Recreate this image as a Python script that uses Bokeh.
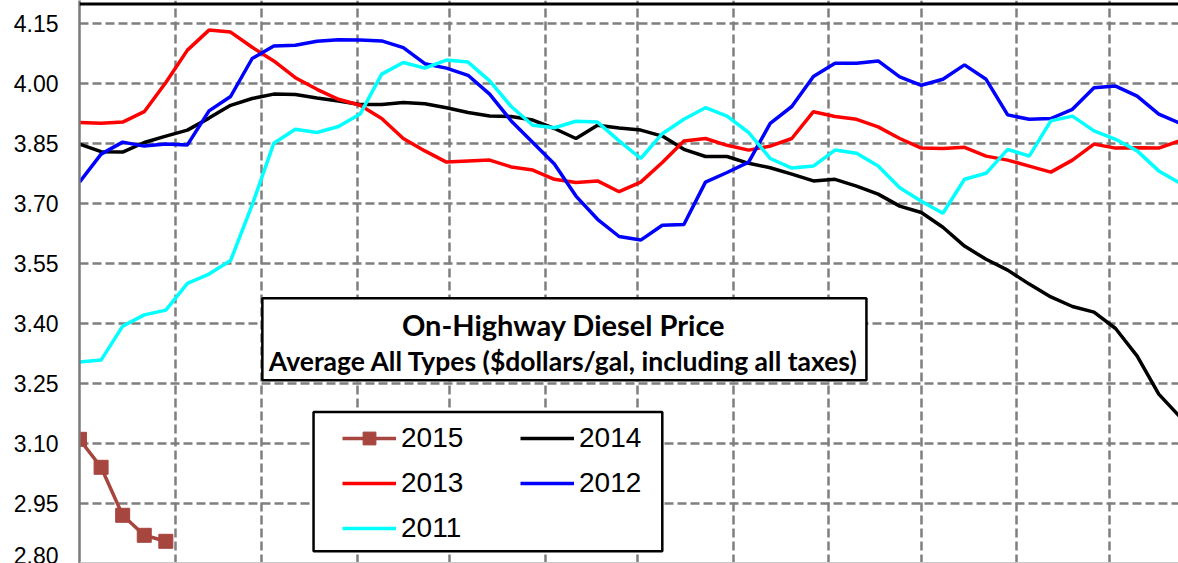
from bokeh.plotting import figure
from bokeh.models import (Range1d, FixedTicker, Span, BoxAnnotation, Label,
                          Legend, LegendItem, NumeralTickFormatter)
from bokeh.embed import file_html
from bokeh.resources import INLINE

# ---- data (weekly prices, $/gal) ----
weeks = list(range(52))
y2015 = [3.11, 3.04, 2.92, 2.87, 2.855]
y2014 = [3.848, 3.829, 3.828, 3.852, 3.868, 3.883, 3.913, 3.945, 3.962, 3.973,
         3.972, 3.963, 3.956, 3.947, 3.947, 3.952, 3.949, 3.939, 3.927, 3.918,
         3.917, 3.908, 3.887, 3.862, 3.895, 3.888, 3.883, 3.868, 3.835, 3.817,
         3.817, 3.800, 3.789, 3.773, 3.756, 3.760, 3.743, 3.723, 3.693, 3.677,
         3.640, 3.593, 3.560, 3.533, 3.498, 3.466, 3.442, 3.428, 3.387, 3.318,
         3.223, 3.165]
y2013 = [3.902, 3.900, 3.903, 3.929, 4.002, 4.083, 4.133, 4.128, 4.090, 4.056,
         4.014, 3.985, 3.960, 3.945, 3.912, 3.862, 3.831, 3.803, 3.806, 3.808,
         3.791, 3.783, 3.760, 3.752, 3.756, 3.729, 3.753, 3.802, 3.856, 3.862,
         3.845, 3.833, 3.843, 3.862, 3.929, 3.917, 3.910, 3.891, 3.862, 3.838,
         3.837, 3.840, 3.818, 3.808, 3.793, 3.778, 3.808, 3.848, 3.838, 3.839,
         3.838, 3.857]
y2012 = [3.753, 3.823, 3.853, 3.843, 3.848, 3.846, 3.931, 3.967, 4.062, 4.093,
         4.095, 4.105, 4.109, 4.108, 4.106, 4.089, 4.049, 4.038, 4.020, 3.973,
         3.906, 3.852, 3.798, 3.718, 3.660, 3.617, 3.608, 3.645, 3.647, 3.753,
         3.777, 3.803, 3.900, 3.942, 4.017, 4.050, 4.050, 4.056, 4.016, 3.995,
         4.010, 4.046, 4.010, 3.921, 3.910, 3.912, 3.935, 3.989, 3.993, 3.968,
         3.923, 3.900]
y2011 = [3.303, 3.308, 3.393, 3.421, 3.433, 3.500, 3.523, 3.557, 3.696, 3.850,
         3.885, 3.877, 3.892, 3.923, 4.023, 4.052, 4.038, 4.058, 4.053, 4.006,
         3.942, 3.895, 3.889, 3.905, 3.903, 3.856, 3.812, 3.874, 3.910, 3.939,
         3.918, 3.877, 3.812, 3.788, 3.793, 3.833, 3.825, 3.793, 3.739, 3.705,
         3.675, 3.760, 3.775, 3.835, 3.818, 3.906, 3.918, 3.881, 3.860, 3.831,
         3.781, 3.750]
y_ticks = [2.80, 2.95, 3.10, 3.25, 3.40, 3.55, 3.70, 3.85, 4.00, 4.15]
month_start_days = [31, 59, 90, 120, 151, 181, 212, 243, 273, 304, 334]

days = [w * 7 for w in weeks]

p = figure(width=1178, height=563, output_backend="svg", toolbar_location=None,
           x_range=Range1d(0, 356.4), y_range=Range1d(2.7995, 4.207),
           x_axis_location=None,
           min_border_left=79, min_border_right=0, min_border_top=0, min_border_bottom=0)
p.outline_line_color = None
p.background_fill_color = "white"
p.border_fill_color = "white"

ax = p.yaxis[0]
ax.ticker = FixedTicker(ticks=y_ticks)
ax.formatter = NumeralTickFormatter(format="0.00")
ax.major_tick_in = 0
ax.major_tick_out = 0
ax.minor_tick_in = 0
ax.minor_tick_out = 0
ax.axis_line_color = "#7a7a7a"
ax.axis_line_width = 2.5
ax.major_label_standoff = 21
ax.major_label_text_font = "Liberation Sans"
ax.major_label_text_font_size = "23px"
ax.major_label_text_color = "black"

for g in (p.xgrid, p.ygrid):
    g.grid_line_color = "#7f7f7f"
    g.grid_line_alpha = 1.0
    g.grid_line_width = 2.5
    g.grid_line_dash = "9 4"
p.xgrid.ticker = FixedTicker(ticks=month_start_days)
p.ygrid.ticker = FixedTicker(ticks=y_ticks)

# frame edges
p.add_layout(Span(location=4.198, dimension="width", line_color="black", line_width=3))
p.add_layout(Span(location=2.8015, dimension="width", line_color="#c8c8c8", line_width=1.5))

lw = 3.5
r15l = p.line(days[:len(y2015)], y2015, line_color="#A7453F", line_width=lw)
r15s = p.scatter(days[:len(y2015)], y2015, marker="square", size=14,
                 fill_color="#A7453F", line_color="#A7453F")
r14 = p.line(days, y2014, line_color="black", line_width=lw)
r13 = p.line(days, y2013, line_color="#FF0000", line_width=lw)
r12 = p.line(days, y2012, line_color="#0000FF", line_width=lw)
r11 = p.line(days, y2011, line_color="#00FFFF", line_width=lw)

# title box
p.add_layout(BoxAnnotation(left=59.3, right=255.2, top=3.4625, bottom=3.2575,
                           fill_color="white", fill_alpha=1.0,
                           line_color="black", line_alpha=1.0, line_width=2.5,
                           level="annotation"))
p.add_layout(Label(x=157, y=3.3975, text="On-Highway Diesel Price",
                   text_align="center", text_baseline="middle",
                   text_font="Lato", text_font_style="bold", text_font_size="29px",
                   text_color="black"))
p.add_layout(Label(x=157, y=3.305,
                   text="Average All Types ($dollars/gal, including all taxes)",
                   text_align="center", text_baseline="middle",
                   text_font="Lato", text_font_style="bold", text_font_size="26.5px",
                   text_color="black"))

# legend box
p.add_layout(BoxAnnotation(left=75.9, right=189.0, top=3.178, bottom=2.83,
                           fill_color="white", fill_alpha=1.0,
                           line_color="black", line_alpha=1.0, line_width=2.5,
                           level="annotation"))
legend = Legend(items=[
    LegendItem(label="2015", renderers=[r15l, r15s]),
    LegendItem(label="2014", renderers=[r14]),
    LegendItem(label="2013", renderers=[r13]),
    LegendItem(label="2012", renderers=[r12]),
    LegendItem(label="2011", renderers=[r11]),
], location=(263, 19), orientation="horizontal", ncols=2,
   padding=0, margin=0, spacing=13,
   glyph_width=54, glyph_height=32, label_height=32, label_width=106,
   label_standoff=5, label_text_font="Liberation Sans", label_text_font_size="28px",
   label_text_color="black", border_line_color=None, background_fill_alpha=0)
p.add_layout(legend, "center")

open("out.html", "w").write(file_html(p, INLINE))
